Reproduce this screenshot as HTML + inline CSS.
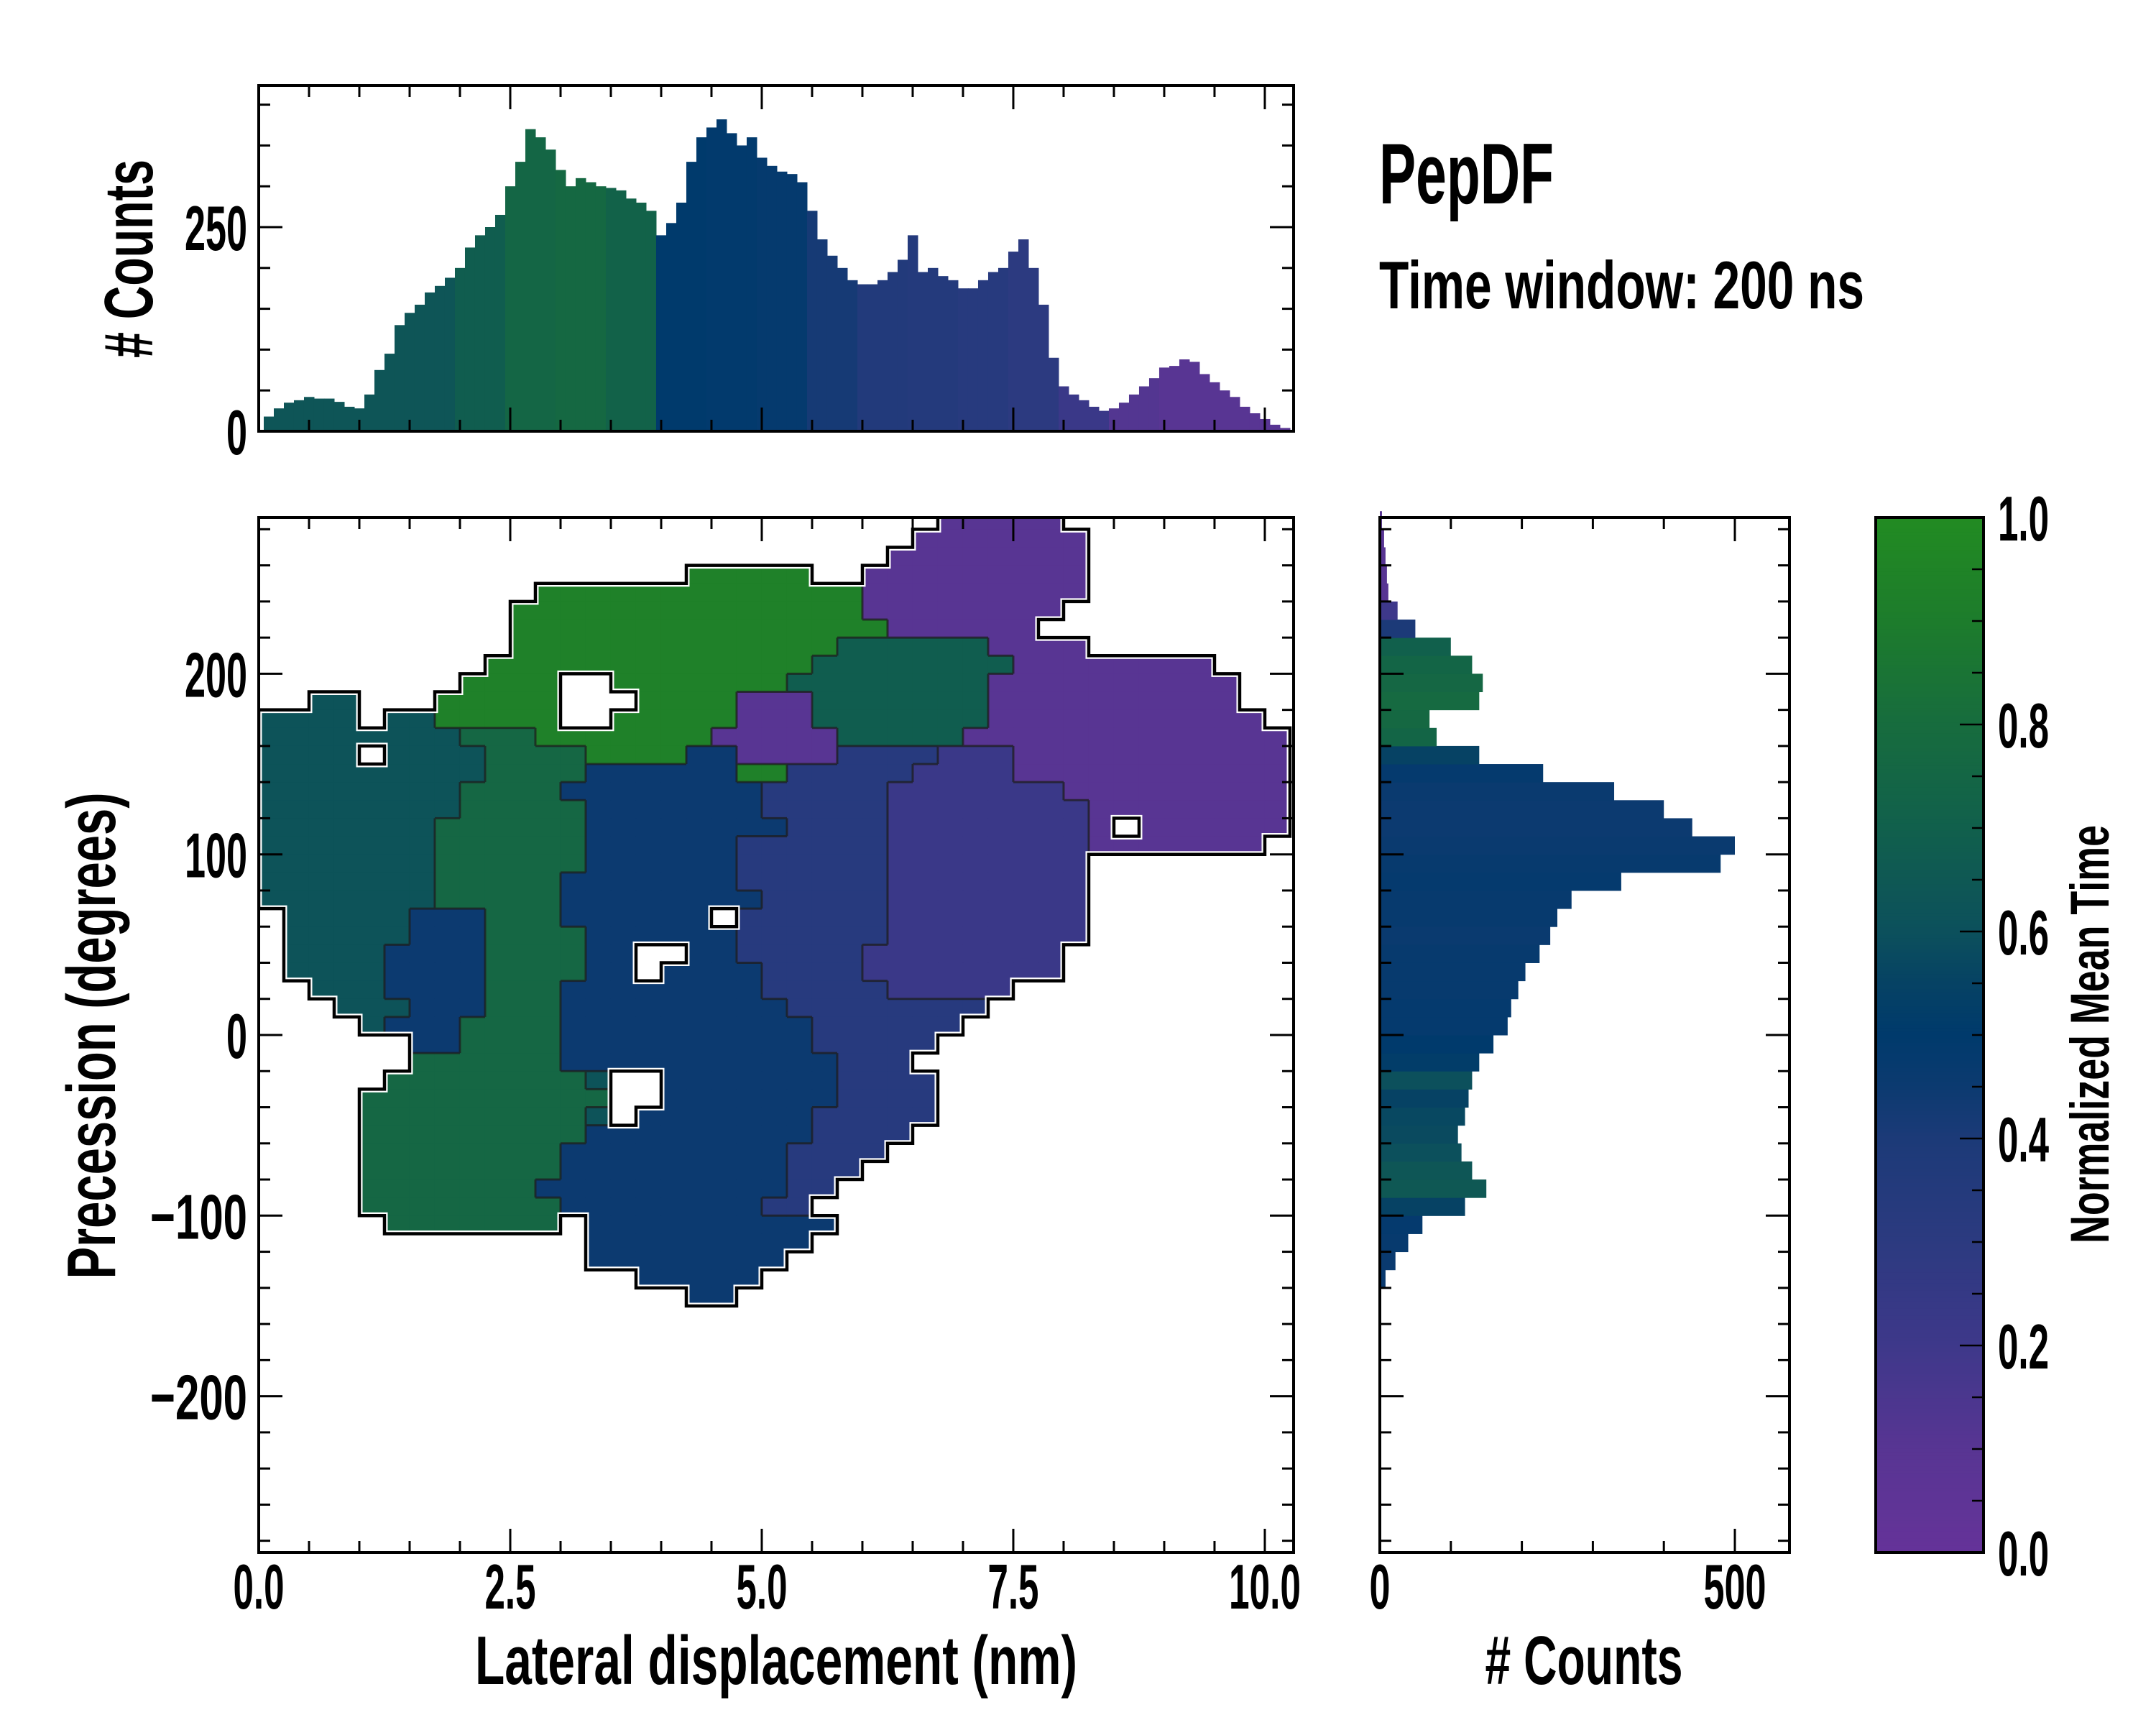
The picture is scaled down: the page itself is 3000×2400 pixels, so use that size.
<!DOCTYPE html>
<html><head><meta charset="utf-8"><style>
html,body{margin:0;padding:0;background:#fff;}
svg{display:block;}
text{font-family:"Liberation Sans Narrow","Liberation Sans",sans-serif;font-weight:bold;fill:#000;}
</style></head><body>
<svg id="fig" xmlns="http://www.w3.org/2000/svg" width="3000" height="2400" viewBox="0 0 3000 2400">
<rect x="0" y="0" width="3000" height="2400" fill="#fff"/>
<defs><clipPath id="mainClip"><rect x="360" y="720" width="1440" height="1440"/></clipPath></defs>
<g id="main" clip-path="url(#mainClip)"></g>
<g id="topHist"></g>
<g id="rightHist"></g>
<g id="cbar"></g>
<g id="axes"></g>
<text x="1919" y="283" font-size="120" textLength="243" lengthAdjust="spacingAndGlyphs">PepDF</text>
<text x="1919" y="429" font-size="94" textLength="675" lengthAdjust="spacingAndGlyphs">Time window: 200 ns</text>
<text x="1080" y="2343" font-size="96" text-anchor="middle" textLength="838" lengthAdjust="spacingAndGlyphs">Lateral displacement (nm)</text>
<text x="2204" y="2343" font-size="96" text-anchor="middle" textLength="275" lengthAdjust="spacingAndGlyphs"># Counts</text>
<text transform="translate(160,1441) rotate(-90)" x="0" y="0" font-size="96" text-anchor="middle" textLength="677" lengthAdjust="spacingAndGlyphs">Precession (degrees)</text>
<text transform="translate(212,360) rotate(-90)" x="0" y="0" font-size="96" text-anchor="middle" textLength="276" lengthAdjust="spacingAndGlyphs"># Counts</text>
<text transform="translate(2934,1439) rotate(-90)" x="0" y="0" font-size="76" text-anchor="middle" textLength="582" lengthAdjust="spacingAndGlyphs">Normalized Mean Time</text>
</svg>
<script>
// ---------- data ----------
const topBinStart = 0.05, topBinWidth = 0.1;
const topCounts = [18,28,35,38,42,40,40,36,30,28,
45,75,95,130,145,155,170,178,188,200,
225,240,250,265,300,330,370,360,345,320,
300,310,305,300,298,295,285,280,270,240,
255,280,330,360,372,382,365,350,360,335,
325,318,315,305,270,235,215,200,185,180,
180,185,195,210,240,195,200,190,185,175,
175,185,195,200,220,235,200,155,90,55,
45,38,30,25,28,35,45,55,65,78,
80,88,85,70,60,50,42,30,22,15,8,4];
const topMeanTime = [0.63,0.63,0.63,0.63,0.68,0.75,0.77,0.72,0.5,0.49,0.48,0.42,0.36,0.35,0.33,0.3,0.22,0.12,0.1,0.1,0.1];
const rightBinStart = -140, rightBinWidth = 10;
const rightCounts = [8,22,40,60,120,150,130,115,110,120,125,130,140,160,180,185,195,205,225,240,250,270,340,480,500,440,400,330,230,140,80,70,140,145,130,100,50,25,12,10,8,6,3];
const rightMeanTime = [0.46,0.46,0.47,0.48,0.55,0.65,0.64,0.6,0.58,0.57,0.55,0.6,0.52,0.5,0.48,0.48,0.47,0.47,0.47,0.46,0.47,0.47,0.48,0.47,0.46,0.45,0.45,0.46,0.48,0.55,0.74,0.77,0.78,0.76,0.74,0.7,0.4,0.2,0.1,0.1,0.1,0.1,0.1];
const heatCellW = 0.25, heatCellH = 10, heatTop = 290;
const heatRows = [
"p27-31","p26-32","p25-32","G17-21 p24-32","G11-23 p24-32","G10-23 p24-31","G10-24 p25-30",
"G10-22 m23-28 p29-32","G9-21 m22-29 p30-37","G8-11 G14-20 m21-28 p29-38",
"t2-3 G7-11 G15-18 p19-21 m22-28 p29-38","t0-3 t5-6 G7-11 G14-18 p19-21 m22-28 p29-39",
"t0-4 t5-7 g8-10 G11-17 p18-22 m23-27 p28-40","t0-3 t5-8 g9-12 G13-16 n17-18 p19-22 b23-26 v27-29 p30-40",
"t0-8 g9-12 n13-18 G19-20 b21-25 v26-29 p30-40","t0-7 g8-11 n12-19 b20-24 v25-31 p32-40",
"t0-7 g8-12 n13-19 b20-24 v25-32 p33-40","t0-6 g7-12 n13-20 b21-24 v25-32 p33-33 p35-40",
"t0-6 g7-12 n13-18 b19-24 v25-32 p33-39","t0-6 g7-12 n13-18 b19-24 v25-32",
"t0-6 g7-11 n12-18 b19-24 v25-32","t0-6 g7-11 n12-19 b20-24 v25-32",
"t1-5 n6-8 g9-11 n12-17 b19-24 v25-32","t1-5 n6-8 g9-12 n13-18 b19-24 v25-32",
"t1-4 n5-8 g9-12 n13-14 n17-18 b19-23 v24-31","t1-4 n5-8 g9-12 n13-14 n16-19 b20-23 v24-31",
"t2-4 n5-8 g9-11 n12-19 b20-24 v25-29","t3-5 n6-8 g9-11 n12-20 b21-28",
"t4-4 n5-7 g8-11 n12-21 b22-27","n6-7 g8-11 n12-21 b22-26","g6-11 n12-22 b23-25",
"g5-12 t13-13 n16-22 b23-26","g4-13 n16-22 b23-26","g4-12 t13-13 n15-21 b22-26",
"g4-12 n13-21 b22-25","g4-11 n12-20 b21-24","g4-11 n12-20 b21-23","g4-10 n11-20 b21-22",
"g4-11 n12-19 b20-21","g5-11 n13-22","n13-21","n13-20","n15-19","n17-18"];
const heatLevels = {p:0.1,v:0.22,b:0.33,n:0.45,t:0.62,g:0.76,G:0.93,m:0.68};
const xTicks = [0,2.5,5,7.5,10];
const xTickLabels = ["0.0","2.5","5.0","7.5","10.0"];
const yTicks = [-200,-100,0,100,200];
const yTickLabels = ["\u2212200","\u2212100","0","100","200"];
const topYTicks = [0,250];
const topYTickLabels = ["0","250"];
const rightXTicks = [0,500];
const rightXTickLabels = ["0","500"];
const cbTicks = [0,0.2,0.4,0.6,0.8,1.0];
const cbTickLabels = ["0.0","0.2","0.4","0.6","0.8","1.0"];

// ---------- scales ----------
const X0=360,X1=1800,Y0=720,Y1=2160;
const XMAX=10.286, YMIN=-286.5, YMAX=286.5;
const sx=v=>X0+v/XMAX*(X1-X0);
const sy=v=>Y1-(v-YMIN)/(YMAX-YMIN)*(Y1-Y0);
const TY0=119,TY1=600,TPX=1.136;
const ty=c=>TY1-c*TPX;
const RX0=1920,RX1=2490,RPX=0.988;
const rx=c=>RX0+c*RPX;
const CBX0=2610,CBX1=2760;
const cy=v=>Y1-v*(Y1-Y0);

const stops=[[0,'#653399'],[0.1,'#583593'],[0.2,'#3e388a'],[0.3,'#2c3a80'],[0.4,'#1c3a78'],[0.45,'#0c3a70'],[0.5,'#003a6c'],[0.55,'#064264'],[0.6,'#0c505c'],[0.7,'#11604c'],[0.8,'#176c3e'],[0.9,'#1d7c2c'],[1,'#228b22']];
function hex(h){return [1,3,5].map(i=>parseInt(h.substr(i,2),16));}
function cmap(v){v=Math.max(0,Math.min(1,v));for(let i=1;i<stops.length;i++){if(v<=stops[i][0]){const a=stops[i-1],b=stops[i];const t=(v-a[0])/(b[0]-a[0]);const ca=hex(a[1]),cb=hex(b[1]);return 'rgb('+ca.map((x,k)=>Math.round(x+(cb[k]-x)*t)).join(',')+')';}}return stops[stops.length-1][1];}

const NS='http://www.w3.org/2000/svg';
function mk(tag,attrs,parent){const e=document.createElementNS(NS,tag);for(const k in attrs)e.setAttribute(k,attrs[k]);parent.appendChild(e);return e;}
const gMain=document.getElementById('main'),gTop=document.getElementById('topHist'),gRight=document.getElementById('rightHist'),gCb=document.getElementById('cbar'),gAx=document.getElementById('axes');

// ---------- heatmap ----------
const NC=41;
const grid=heatRows.map(row=>{const a=new Array(NC).fill(null);row.split(' ').forEach(seg=>{const ch=seg[0];const [s,e]=seg.slice(1).split('-').map(Number);for(let c=s;c<=e;c++)a[c]=ch;});return a;});
grid.forEach((row,r)=>{row.forEach((ch,c)=>{if(!ch)return;
  const x0=sx(c*heatCellW),x1=sx((c+1)*heatCellW);const yt=sy(heatTop-r*heatCellH),yb=sy(heatTop-(r+1)*heatCellH);
  const el=mk('rect',{x:x0,y:yt,width:x1-x0+0.6,height:yb-yt+0.6,fill:cmap(heatLevels[ch])},gMain);
  
  
});});
let outline='',inner='';
const cellAt=(r,c)=>(r>=0&&r<grid.length&&c>=0&&c<NC)?grid[r][c]:null;
grid.forEach((row,r)=>{row.forEach((ch,c)=>{if(!ch)return;
  const x0=sx(c*heatCellW),x1=sx((c+1)*heatCellW);const yt=sy(heatTop-r*heatCellH),yb=sy(heatTop-(r+1)*heatCellH);
  const edges=[[cellAt(r-1,c),`M${x0},${yt}H${x1}`],[cellAt(r+1,c),`M${x0},${yb}H${x1}`],[cellAt(r,c-1),`M${x0},${yt}V${yb}`],[cellAt(r,c+1),`M${x1},${yt}V${yb}`]];
  edges.forEach(([n,d],i)=>{if(!n)outline+=d;else if(n!==ch&&(i===1||i===3))inner+=d;});
});});
const innerEl=mk('path',{d:inner,fill:'none',stroke:'#1e1e1e','stroke-width':3,'stroke-opacity':0.75},gMain);


const halo=mk('path',{d:outline,fill:'none',stroke:'#fff','stroke-width':9,'stroke-linecap':'square'},gMain);


const outEl=mk('path',{d:outline,fill:'none',stroke:'#000','stroke-width':4.5,'stroke-linecap':'square'},gMain);



// ---------- top histogram ----------
topCounts.forEach((c,i)=>{const a=topBinStart+i*topBinWidth,b=a+topBinWidth;
  const m=topMeanTime[Math.min(topMeanTime.length-1,Math.floor((a+b)/2/0.5))];
  const el=mk('rect',{x:sx(a),y:ty(c),width:sx(b)-sx(a)+0.5,height:TY1-ty(c),fill:cmap(m)},gTop);
  
  
});
// ---------- right histogram ----------
rightCounts.forEach((c,i)=>{const a=rightBinStart+i*rightBinWidth,b=a+rightBinWidth;
  const el=mk('rect',{x:RX0,y:sy(b),width:rx(c)-RX0,height:sy(a)-sy(b)+0.5,fill:cmap(rightMeanTime[i])},gRight);
  
  
});
// ---------- colorbar ----------
for(let i=0;i<288;i++){const v0=i/288,v1=(i+1)/288;
  const el=mk('rect',{x:CBX0,y:cy(v1),width:CBX1-CBX0,height:cy(v0)-cy(v1)+0.6,fill:cmap((v0+v1)/2)},gCb);
  
  
}

// ---------- axes ----------
function line(x1,y1,x2,y2,w,name){const el=mk('line',{x1,y1,x2,y2,stroke:'#000','stroke-width':w},gAx);return el;}
function frame(x0,y0,x1,y1,name){const el=mk('rect',{x:x0,y:y0,width:x1-x0,height:y1-y0,fill:'none',stroke:'#000','stroke-width':4},gAx);}
function label(x,y,s,anchor,size,name){const n=[...s];let w=0;n.forEach(ch=>{w+=ch==='.'?13:(ch==='\u2212'?48:29);});
  const el=mk('text',{x,y,'font-size':size,'text-anchor':anchor,textLength:w,lengthAdjust:'spacingAndGlyphs'},gAx);el.textContent=s;}
const MAJ=33,MIN=16;
for(let k=0;k<=20;k++){const v=k*0.5;const x=sx(v);const L=(k%5===0)?MAJ:MIN;
  line(x,Y1,x,Y1-L,3,'x-tick');line(x,Y0,x,Y0+L,3,'x-tick-top');
  line(x,TY1,x,TY1-L,3,'top-hist-x-tick');line(x,TY0,x,TY0+L,3,'top-hist-x-tick-top');}
xTicks.forEach((v,i)=>label(sx(v),2238,xTickLabels[i],'middle',88,'x-tick-label'));
for(let v=-280;v<=280;v+=20){const y=sy(v);const L=(v%100===0)?MAJ:MIN;
  line(X0,y,X0+L,y,3,'y-tick');line(X1,y,X1-L,y,3,'y-tick-right');
  line(RX0,y,RX0+L,y,3,'right-hist-y-tick');line(RX1,y,RX1-L,y,3,'right-hist-y-tick-right');}
yTicks.forEach((v,i)=>label(344,sy(v)+32,yTickLabels[i],'end',88,'y-tick-label'));
for(let v=0;v<=400;v+=50){const y=ty(v);const L=(v%250===0)?MAJ:MIN;line(X0,y,X0+L,y,3,'top-hist-y-tick');line(X1,y,X1-L,y,3,'top-hist-y-tick-right');}
topYTicks.forEach((v,i)=>label(344,ty(v)+32,topYTickLabels[i],'end',88,'top-hist-y-tick-label'));
for(let v=0;v<=500;v+=100){const x=rx(v);const L=(v%500===0)?MAJ:MIN;line(x,Y1,x,Y1-L,3,'right-hist-x-tick');line(x,Y0,x,Y0+L,3,'right-hist-x-tick-top');}
rightXTicks.forEach((v,i)=>label(rx(v),2238,rightXTickLabels[i],'middle',88,'right-hist-x-tick-label'));
for(let k=1;k<20;k++){const v=k*0.05;const y=cy(v);const L=(k%4===0)?MAJ:MIN;line(CBX1,y,CBX1-L,y,2.5,'colorbar-tick');}
cbTicks.forEach((v,i)=>label(2780,cy(v)+32,cbTickLabels[i],'start',88,'colorbar-tick-label'));
frame(X0,Y0,X1,Y1,'main-plot-frame');
frame(X0,TY0,X1,TY1,'top-hist-frame');
frame(RX0,Y0,RX1,Y1,'right-hist-frame');
frame(CBX0,Y0,CBX1,Y1,'colorbar-frame');
</script>
</body></html>
